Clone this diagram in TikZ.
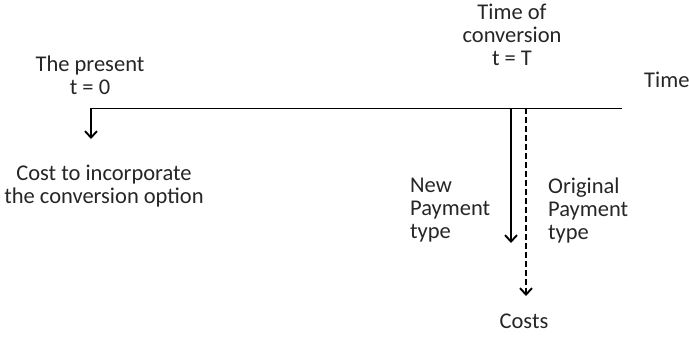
\documentclass[tikz,border=0pt]{standalone}
\usepackage{fontspec}
\setmainfont{Carlito}
\usetikzlibrary{arrows.meta}
\begin{document}
\begin{tikzpicture}[x=1pt,y=-1pt,
  lbl/.style={inner sep=0pt,font=\fontsize{22.5}{23}\selectfont,align=center,text=black!85},
  lbll/.style={lbl,align=left,anchor=west},
  arr/.style={line width=1.9pt,-{Straight Barb[length=6.5pt,width=12pt]}},
  axis/.style={line width=1pt}]
\useasboundingbox (0,0) rectangle (689,338);
\coordinate (L) at (91,108);
\coordinate (R) at (622,108);
\coordinate (S) at (511,108);
\coordinate (D) at (526,108);
\coordinate (Le) at (91,139);
\coordinate (Se) at (511,243);
\coordinate (De) at (526,296);
\draw[axis] (L) -- (R);
\draw[arr] (L) -- (Le);
\draw[arr] (S) -- (Se);
\draw[arr,dash pattern=on 6pt off 3pt] (D) -- (De);
\node[lbl] (present) at (90,75) {The present\\t = 0};
\node[lbl] (conv) at (512,35) {Time of\\conversion\\t = T};
\node[lbll] (time) at (644,80) {Time};
\node[lbl] (cost) at (104,186) {Cost to incorporate\\the conversion option};
\node[lbll] (new) at (410,210) {New\\Payment\\type};
\node[lbll] (orig) at (548,210) {Original\\Payment\\type};
\node[lbl] (costs) at (524,321) {Costs};
\end{tikzpicture}
\end{document}
